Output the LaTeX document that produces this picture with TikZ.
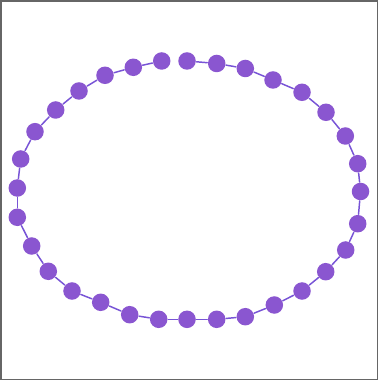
\documentclass[tikz,border=0pt]{standalone}
\usepackage{tikz}
\definecolor{ringfill}{RGB}{138,86,208}
\definecolor{ringline}{RGB}{120,84,214}
\definecolor{framegray}{RGB}{102,102,102}
\tikzset{
  ringdot/.style={circle, fill=ringfill, inner sep=0pt, minimum size=0.175cm},
  ringedge/.style={draw=ringline, line width=0.42pt, line cap=round},
  frameline/.style={draw=framegray, line width=0.5pt},
}

\begin{document}
\begin{tikzpicture}[x=0.01cm, y=-0.01cm]
\useasboundingbox (0,0) rectangle (382,383);
\draw[frameline] (1,1) rectangle (377.5,379.5);
\node[ringdot] (n1) at (187.0,61.0) {};
\node[ringdot] (n2) at (216.7,63.5) {};
\node[ringdot] (n3) at (245.3,68.5) {};
\node[ringdot] (n4) at (273.0,80.0) {};
\node[ringdot] (n5) at (302.0,92.3) {};
\node[ringdot] (n6) at (326.0,112.3) {};
\node[ringdot] (n7) at (345.3,136.0) {};
\node[ringdot] (n8) at (357.7,163.7) {};
\node[ringdot] (n9) at (360.5,191.5) {};
\node[ringdot] (n10) at (357.7,223.7) {};
\node[ringdot] (n11) at (345.7,250.0) {};
\node[ringdot] (n12) at (325.7,271.7) {};
\node[ringdot] (n13) at (302.0,291.0) {};
\node[ringdot] (n14) at (274.3,305.0) {};
\node[ringdot] (n15) at (245.3,316.7) {};
\node[ringdot] (n16) at (216.7,319.3) {};
\node[ringdot] (n17) at (187.0,319.3) {};
\node[ringdot] (n18) at (158.7,319.3) {};
\node[ringdot] (n19) at (129.7,314.7) {};
\node[ringdot] (n20) at (100.7,302.3) {};
\node[ringdot] (n21) at (72.0,291.0) {};
\node[ringdot] (n22) at (48.3,271.3) {};
\node[ringdot] (n23) at (31.7,246.0) {};
\node[ringdot] (n24) at (17.3,217.3) {};
\node[ringdot] (n25) at (17.3,188.0) {};
\node[ringdot] (n26) at (20.7,159.0) {};
\node[ringdot] (n27) at (35.0,131.7) {};
\node[ringdot] (n28) at (55.7,110.0) {};
\node[ringdot] (n29) at (79.0,91.0) {};
\node[ringdot] (n30) at (105.0,75.3) {};
\node[ringdot] (n31) at (133.3,67.3) {};
\node[ringdot] (n32) at (161.7,61.0) {};
\draw[ringedge] (n1) -- (n2);
\draw[ringedge] (n2) -- (n3);
\draw[ringedge] (n3) -- (n4);
\draw[ringedge] (n4) -- (n5);
\draw[ringedge] (n5) -- (n6);
\draw[ringedge] (n6) -- (n7);
\draw[ringedge] (n7) -- (n8);
\draw[ringedge] (n8) -- (n9);
\draw[ringedge] (n9) -- (n10);
\draw[ringedge] (n10) -- (n11);
\draw[ringedge] (n11) -- (n12);
\draw[ringedge] (n12) -- (n13);
\draw[ringedge] (n13) -- (n14);
\draw[ringedge] (n14) -- (n15);
\draw[ringedge] (n15) -- (n16);
\draw[ringedge] (n16) -- (n17);
\draw[ringedge] (n17) -- (n18);
\draw[ringedge] (n18) -- (n19);
\draw[ringedge] (n19) -- (n20);
\draw[ringedge] (n20) -- (n21);
\draw[ringedge] (n21) -- (n22);
\draw[ringedge] (n22) -- (n23);
\draw[ringedge] (n23) -- (n24);
\draw[ringedge] (n24) -- (n25);
\draw[ringedge] (n25) -- (n26);
\draw[ringedge] (n26) -- (n27);
\draw[ringedge] (n27) -- (n28);
\draw[ringedge] (n28) -- (n29);
\draw[ringedge] (n29) -- (n30);
\draw[ringedge] (n30) -- (n31);
\draw[ringedge] (n31) -- (n32);
\end{tikzpicture}
\end{document}
